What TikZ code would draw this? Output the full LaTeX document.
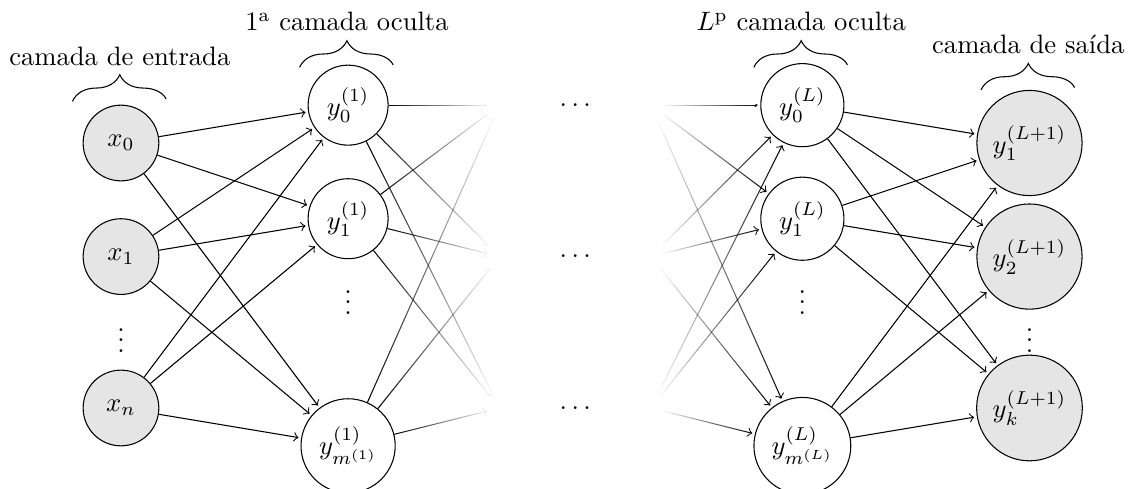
\documentclass[tikz,border=0pt]{standalone}
\usepackage{amsmath}
\usetikzlibrary{decorations.pathreplacing,fadings}
\begin{document}
\begin{tikzpicture}[shorten >=1pt,
  unit/.style={draw,shape=circle,minimum size=1cm,fill=black!10},
  hidden/.style={draw,shape=circle,minimum size=1cm},
  conn/.style={->},
  fadeE/.style={->,path fading=east},
  fadeW/.style={->,path fading=west},
  lbrace/.style={decorate,decoration={brace,amplitude=10pt},xshift=-4pt}]
\useasboundingbox (-1.598,-1.058) rectangle (13.42,5.389);

\node[unit](x0) at (0,3.5){$x_0$};
\node[unit](x1) at (0,2){$x_1$};
\node (xv) at (0,1){$\vdots$};
\node[unit](xd) at (0,0){$x_n$};

\node[hidden](h10) at (3,4){$y_0^{(1)}$};
\node[hidden](h11) at (3,2.5){$y_1^{(1)}$};
\node (hv) at (3,1.5){$\vdots$};
\node[hidden](h1m) at (3,-0.5){$y_{m^{(1)}}^{(1)}$};

\node(h22) at (5,0){};
\node(h21) at (5,2){};
\node(h20) at (5,4){};

\node(d3) at (6,0){$\ldots$};
\node(d2) at (6,2){$\ldots$};
\node(d1) at (6,4){$\ldots$};

\node(hL12) at (7,0){};
\node(hL11) at (7,2){};
\node(hL10) at (7,4){};

\node[hidden](hL0) at (9,4){$y_0^{(L)}$};
\node[hidden](hL1) at (9,2.5){$y_1^{(L)}$};
\node (hLv) at (9,1.5){$\vdots$};
\node[hidden](hLm) at (9,-0.5){$y_{m^{(L)}}^{(L)}$};

\node[unit](y1) at (12,3.5){$y_1^{(L+1)}$};
\node[unit](y2) at (12,2){$y_2^{(L+1)}$};
\node (yv) at (12,1){$\vdots$};
\node[unit](yc) at (12,0){$y_k^{(L+1)}$};

\foreach \s in {x0,x1,xd}
  \foreach \t in {h10,h11,h1m}
    \draw[conn] (\s) -- (\t);

\foreach \s in {hL0,hL1,hLm}
  \foreach \t in {y1,y2,yc}
    \draw[conn] (\s) -- (\t);

\foreach \s in {h10,h11,h1m}
  \foreach \t in {h20,h21,h22}
    \draw[fadeE] (\s) -- (\t);

\foreach \s in {hL10,hL11,hL12}
  \foreach \t in {hL0,hL1,hLm}
    \draw[fadeW] (\s) -- (\t);

\draw[lbrace] (-0.5,4.05) -- (0.75,4.05) node (t1) [black,midway,yshift=0.6cm]{camada de entrada};
\draw[lbrace] (2.5,4.5) -- (3.75,4.5) node (t2) [black,midway,yshift=0.6cm]{$1^{\text{a}}$ camada oculta};
\draw[lbrace] (8.5,4.5) -- (9.75,4.5) node (t3) [black,midway,yshift=0.6cm]{$L^{\text{p}}$ camada oculta};
\draw[lbrace] (11.5,4.2) -- (12.75,4.2) node (t4) [black,midway,yshift=0.6cm]{camada de saída};
\end{tikzpicture}
\end{document}
